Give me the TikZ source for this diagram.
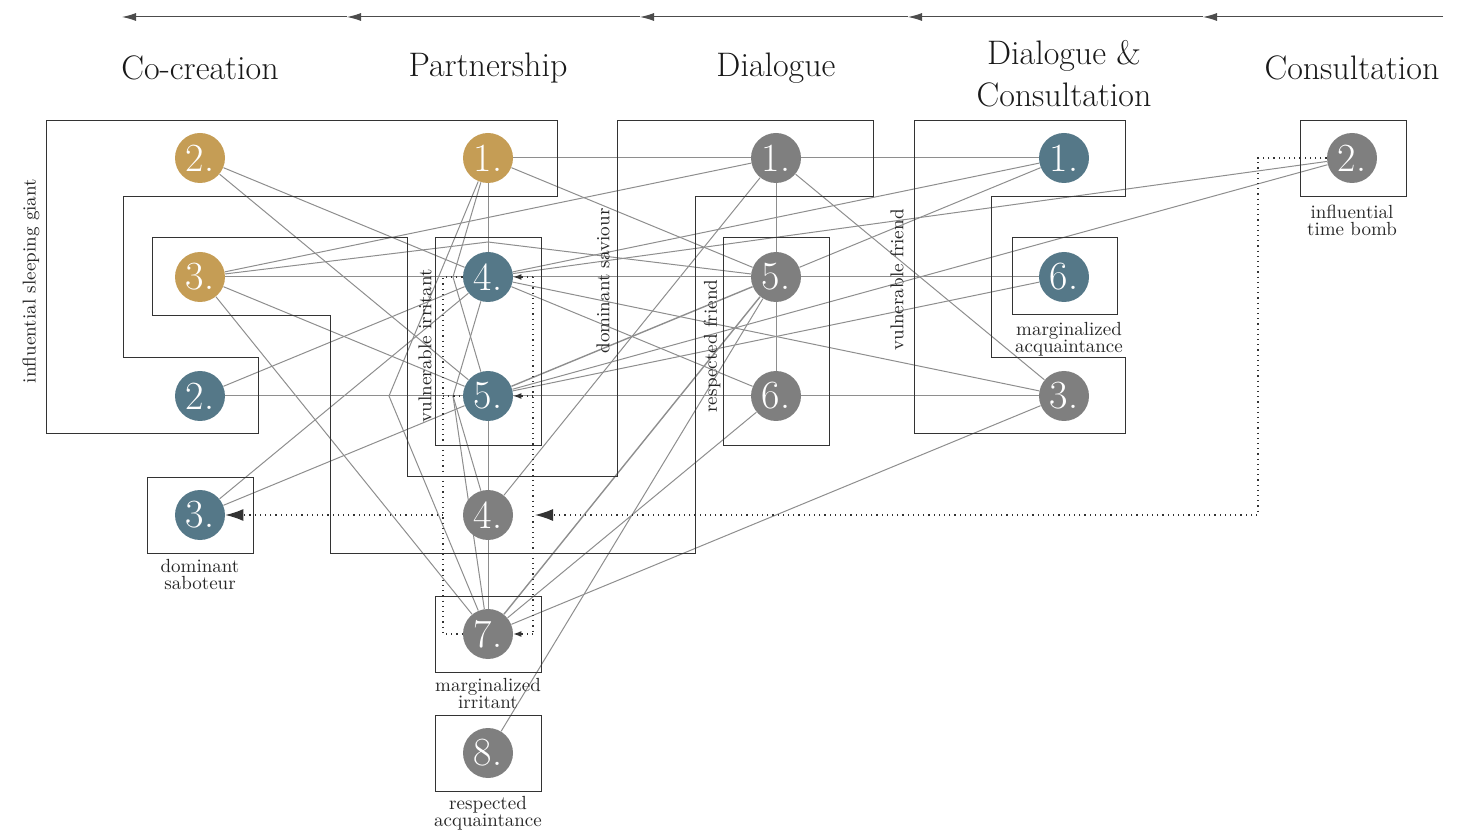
\documentclass[tikz,border=0pt]{standalone}
\usetikzlibrary{arrows.meta}
\definecolor{cgold}{HTML}{C59D55}
\definecolor{cteal}{HTML}{557888}
\definecolor{cgray}{HTML}{7F7F7F}
\definecolor{cedge}{HTML}{8E8E8E}
\definecolor{cframe}{HTML}{333333}
\pgfdeclarelayer{bg}
\pgfsetlayers{bg,main}
\begin{document}
\begin{tikzpicture}[x=0.5pt,y=-0.5pt,
  num/.style={circle, minimum size=25pt, inner sep=0pt, text=white, font=\fontsize{20}{20}\selectfont},
  goldn/.style={num, fill=cgold},
  tealn/.style={num, fill=cteal},
  grayn/.style={num, fill=cgray},
  title/.style={font=\fontsize{17}{21}\selectfont, align=center, text=black!90},
  lab/.style={font=\fontsize{9.5}{8.5}\selectfont, align=center, inner sep=0pt, text=black!85},
  rlab/.style={font=\fontsize{9.3}{9}\selectfont, rotate=90, inner sep=0pt, text=black!85},
  frame/.style={draw=cframe, line width=0.5pt},
  edgeline/.style={draw=cedge, line width=0.5pt},
  dotline/.style={draw=black!80, line width=0.6pt, dotted},
  bigtip/.style={-{Latex[length=9pt,width=6pt]}},
  smalltip/.style={-{Latex[length=4pt,width=3pt]}},
  toptip/.style={draw=black!70, line width=0.5pt, -{Latex[length=7pt,width=4pt]}}
]
\useasboundingbox (0,0) rectangle (1458,834);

% top arrow line
\coordinate (a0) at (1443,17);
\coordinate (a1) at (1203,17);
\coordinate (a2) at (908,17);
\coordinate (a3) at (640,17);
\coordinate (a4) at (347,17);
\coordinate (a5) at (122,17);
\draw[toptip] (a0) -- (a1);
\draw[toptip] (a1) -- (a2);
\draw[toptip] (a2) -- (a3);
\draw[toptip] (a3) -- (a4);
\draw[toptip] (a4) -- (a5);

% titles
\node[title] (tc1) at (200,68) {Co-creation};
\node[title] (tc2) at (488,68) {Partnership};
\node[title] (tc3) at (776,68) {Dialogue};
\node[title] (tc4) at (1064,74) {Dialogue \&\\Consultation};
\node[title] (tc5) at (1352,68) {Consultation};

% frames
\draw[frame] (46,121) -- (557,121) -- (557,197) -- (123,197) -- (123,358) -- (258,358) -- (258,434) -- (46,434) -- cycle;
\draw[frame] (152,238) -- (407,238) -- (407,477) -- (617,477) -- (617,121) -- (873,121) -- (873,197) -- (695,197) -- (695,553) -- (330,553) -- (330,316) -- (152,316) -- cycle;
\draw[frame] (914,121) -- (1125,121) -- (1125,197) -- (991,197) -- (991,358) -- (1125,358) -- (1125,434) -- (914,434) -- cycle;
\draw[frame] (435,238) rectangle (541,446);
\draw[frame] (723,238) rectangle (829,446);
\draw[frame] (1012,238) rectangle (1117,315);
\draw[frame] (1300,121) rectangle (1406,197);
\draw[frame] (147,478) rectangle (253,553);
\draw[frame] (435,596) rectangle (541,672);
\draw[frame] (435,715) rectangle (541,791);

% rotated region labels
\node[rlab] (l1) at (31,281) {influential sleeping giant};
\node[rlab] (l2) at (425,346) {vulnerable irritant};
\node[rlab] (l3) at (603,281) {dominant saviour};
\node[rlab] (l4) at (712,346) {respected friend};
\node[rlab] (l5) at (897,280) {vulnerable friend};

% box labels
\node[lab] (b1) at (200,575) {dominant\\saboteur};
\node[lab] (b2) at (488,694) {marginalized\\irritant};
\node[lab] (b3) at (488,813) {respected\\acquaintance};
\node[lab] (b4) at (1069,339) {marginalized\\acquaintance};
\node[lab] (b5) at (1352,220) {influential\\time bomb};

% nodes
\node[goldn] (g2) at (200,158) {2.};
\node[goldn] (g1) at (488,158) {1.};
\node[goldn] (g3) at (200,277) {3.};
\node[tealn] (t4) at (488,277) {4.};
\node[tealn] (t5) at (488,396) {5.};
\node[tealn] (t2) at (200,396) {2.};
\node[tealn] (t3) at (200,515) {3.};
\node[grayn] (y1) at (776,158) {1.};
\node[grayn] (y5) at (776,277) {5.};
\node[grayn] (y6) at (776,396) {6.};
\node[tealn] (t1) at (1064,158) {1.};
\node[tealn] (t6) at (1064,277) {6.};
\node[grayn] (y3) at (1064,396) {3.};
\node[grayn] (y2) at (1352,158) {2.};
\node[grayn] (y4) at (488,515) {4.};
\node[grayn] (y7) at (488,634) {7.};
\node[grayn] (y8) at (488,753) {8.};

% kink points
\coordinate (k1) at (453,277);
\coordinate (k2) at (389,396);
\coordinate (k3) at (453,396);
\coordinate (k4) at (488,242);

% dotted points
\coordinate (d1) at (1258,158);
\coordinate (d2) at (1258,515);
\coordinate (d3) at (535,515);
\coordinate (dr1) at (533,277);
\coordinate (dr2) at (533,396);
\coordinate (dr3) at (533,634);
\coordinate (dl1) at (443,277);
\coordinate (dl2) at (443,396);
\coordinate (dl3) at (443,515);
\coordinate (dl4) at (443,634);

\begin{pgfonlayer}{bg}
\draw[edgeline] (g1) -- (y1);
\draw[edgeline] (y1) -- (t1);
\draw[edgeline] (g1) -- (y5);
\draw[edgeline] (g1) -- (t4);
\draw[edgeline] (g1) -- (k1) -- (t5);
\draw[edgeline] (g1) -- (k2) -- (y7);
\draw[edgeline] (g2) -- (t4);
\draw[edgeline] (g2) -- (t5);
\draw[edgeline] (g3) -- (y1);
\draw[edgeline] (g3) -- (k4) -- (y5);
\draw[edgeline] (g3) -- (t4);
\draw[edgeline] (t4) -- (y5);
\draw[edgeline] (y5) -- (t6);
\draw[edgeline] (g3) -- (t5);
\draw[edgeline] (g3) -- (y7);
\draw[edgeline] (t2) -- (t5);
\draw[edgeline] (t5) -- (y6);
\draw[edgeline] (y6) -- (y3);
\draw[edgeline] (t2) -- (t4);
\draw[edgeline] (t3) -- (t4);
\draw[edgeline] (t3) -- (t5);
\draw[edgeline] (y1) -- (y5);
\draw[edgeline] (y5) -- (y6);
\draw[edgeline] (y1) -- (y3);
\draw[edgeline] (y1) -- (y4);
\draw[edgeline] (y5) -- (t1);
\draw[edgeline, line width=0.7pt] (y5) -- (t5);
\draw[edgeline, line width=0.7pt] (y5) -- (y7);
\draw[edgeline] (y5) -- (y8);
\draw[edgeline] (y6) -- (t4);
\draw[edgeline] (y6) -- (y7);
\draw[edgeline] (t4) -- (y3);
\draw[edgeline] (t1) -- (t4);
\draw[edgeline] (y2) -- (t4);
\draw[edgeline] (y2) -- (t5);
\draw[edgeline] (t6) -- (t5);
\draw[edgeline] (y3) -- (y7);
\draw[edgeline] (t4) -- (k3) -- (y4);
\draw[edgeline] (k3) -- (y7);
\draw[edgeline] (t5) -- (y4);
\draw[edgeline] (y4) -- (y7);

% dotted connectors
\draw[dotline, bigtip] (y2) -- (d1) -- (d2) -- (d3);
\draw[dotline] (dr1) -- (dr3);
\draw[dotline, smalltip] (dr1) -- (t4);
\draw[dotline, smalltip] (dr2) -- (t5);
\draw[dotline, smalltip] (dr3) -- (y7);
\draw[dotline] (t4) -- (dl1) -- (dl4) -- (y7);
\draw[dotline] (dl2) -- (t5);
\draw[dotline, bigtip] (dl3) -- (t3);
\end{pgfonlayer}
\end{tikzpicture}
\end{document}
